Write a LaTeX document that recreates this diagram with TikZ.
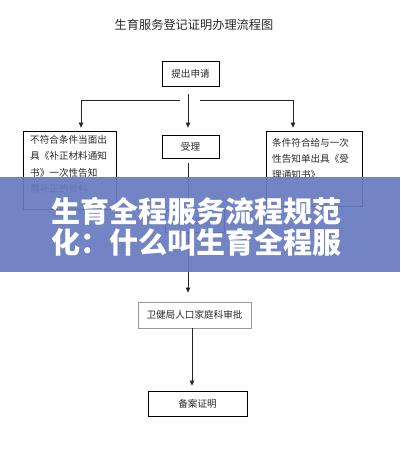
\documentclass[tikz,border=0pt]{standalone}
\usepackage{fontspec}
\setmainfont{Noto Sans CJK SC}
\usetikzlibrary{arrows.meta}
\definecolor{bannerblue}{RGB}{104,122,192}
\definecolor{inkgray}{RGB}{40,40,40}
\tikzset{
  box/.style={draw=black, line width=0.8pt, inner sep=0pt, font=\fontsize{9.6}{16.2}\selectfont, text=inkgray},
  graybox/.style={box, draw=gray!80},
  boxtext/.style={inner sep=0pt, anchor=north west, align=left, font=\fontsize{9.6}{16.2}\selectfont, text=inkgray},
  link/.style={draw=black!85, line width=0.8pt},
  arr/.style={link, -{Triangle[width=4.5pt,length=5pt]}},
}
\begin{document}
\begin{tikzpicture}[x=1pt,y=-1pt]
\useasboundingbox (0,0) rectangle (400,450);
\fill[white] (0,0) rectangle (400,450);
% title
\node[anchor=base, inner sep=0pt, font=\fontsize{12.2}{14}\selectfont, text=inkgray] (title) at (194,29.6) {生育服务登记证明办理流程图};
% boxes
\node[box, minimum width=57pt, minimum height=25pt] (apply) at (190.5,73.5) {提出申请};
\node[box, minimum width=93pt, minimum height=78pt] (left) at (69.5,170) {};
\node[boxtext, text width=86pt] (lefttext) at (30,135.5) {不符合条件当面出\\具《补正材料通知\\书》一次性告知\\需补正的资料};
\node[box, minimum width=57pt, minimum height=23pt] (accept) at (190.5,146.5) {受理};
\node[box, minimum width=96pt, minimum height=75pt] (right) at (314,168.5) {};
\node[boxtext, text width=88pt] (righttext) at (272,138) {条件符合给与一次\\性告知单出具《受\\理通知书》};
\node[box, minimum width=59pt, minimum height=22pt] (review) at (194.5,221.5) {材料审核};
\node[graybox, minimum width=113pt, minimum height=26pt] (approve) at (194.5,315) {卫健局人口家庭科审批};
\node[box, minimum width=99pt, minimum height=25pt] (cert) at (197.5,403.5) {备案证明};
% split connectors
\coordinate (hl) at (81,100);
\coordinate (hlend) at (180,100);
\coordinate (hr) at (293,100);
\coordinate (hrstart) at (200,100);
\draw[link] (hlend) -- (hl);
\draw[arr, shorten >=3pt] (hl) -- (hl |- left.north);
\draw[link] (hrstart) -- (hr);
\draw[arr, shorten >=3pt] (hr) -- (hr |- right.north);
\draw[arr, shorten <=8pt, shorten >=7pt] ([xshift=-2.5pt]apply.south) -- ([xshift=-2.5pt]accept.north);
\draw[arr, shorten <=5pt, shorten >=1pt] ([xshift=-2.5pt]accept.south) -- ([xshift=-6.5pt]review.north);
\draw[arr, shorten >=9pt] ([xshift=-6.5pt]review.south) -- ([xshift=-6.5pt]approve.north);
\draw[arr, shorten >=5pt] ([xshift=-2.5pt]approve.south) -- ([xshift=-5.5pt]cert.north);
% banner
\fill[bannerblue, fill opacity=0.92] (0,177) rectangle (400,272);
\node[anchor=base west, inner sep=0pt, text=white, font=\fontsize{29}{30}\selectfont\bfseries] (banner1) at (51,222) {生育全程服务流程规范};
\node[anchor=base west, inner sep=0pt, text=white, font=\fontsize{29}{30}\selectfont\bfseries] (banner2) at (51,253) {化：什么叫生育全程服};
\end{tikzpicture}
\end{document}
